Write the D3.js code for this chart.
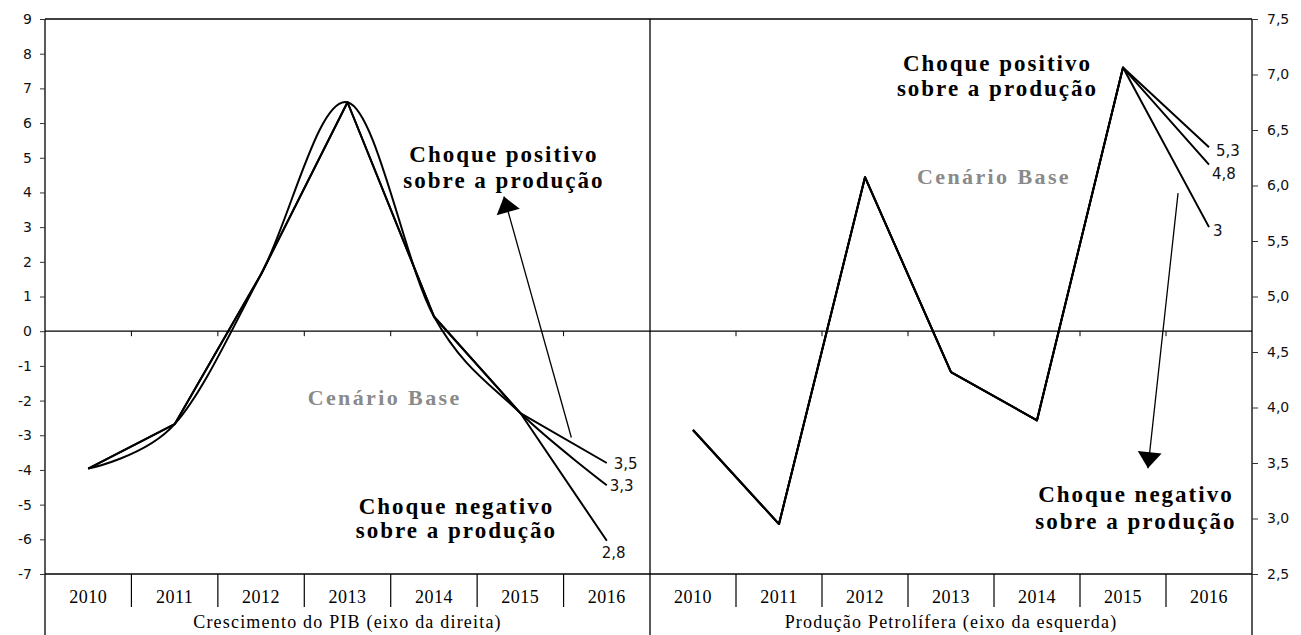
<!DOCTYPE html>
<html><head><meta charset="utf-8">
<script src="https://cdn.jsdelivr.net/npm/d3@7/dist/d3.min.js"></script>
<style>
html,body{margin:0;padding:0;background:#fff;}
svg{display:block;}
</style></head>
<body><svg id="c" width="1301" height="635"></svg>
<script>
// ---------- data ----------
const years = [2010, 2011, 2012, 2013, 2014, 2015, 2016];
const leftTicks = [-7,-6,-5,-4,-3,-2,-1,0,1,2,3,4,5,6,7,8,9];
const rightTicks = [2.5,3.0,3.5,4.0,4.5,5.0,5.5,6.0,6.5,7.0,7.5];
// Crescimento do PIB (right axis)
const pibBase = [3.45, 3.85, 5.2, 6.75, 4.82, 3.95, 3.3];
const pibPos  = [3.45, 3.85, 5.2, 6.75, 4.82, 3.95, 3.5];
const pibNeg  = [3.45, 3.85, 5.2, 6.75, 4.82, 3.95, 2.8];
const pibEndLabels = ["3,5", "3,3", "2,8"];
const pibEndValues = [3.5, 3.3, 2.8];
// Produção Petrolífera (left axis)
const oilBase = [-2.85, -5.56, 4.44, -1.18, -2.57, 7.6, 4.8];
const oilPos  = [-2.85, -5.56, 4.44, -1.18, -2.57, 7.6, 5.3];
const oilNeg  = [-2.85, -5.56, 4.44, -1.18, -2.57, 7.6, 3.0];
const oilEndLabels = ["5,3", "4,8", "3"];
const oilEndValues = [5.3, 4.8, 3.0];
const leftTitle = "Crescimento do PIB (eixo da direita)";
const rightTitle = "Produção Petrolífera (eixo da esquerda)";

// ---------- layout ----------
const X0 = 45, XM = 650, X1 = 1252, YT = 19, YB = 574;
const svg = d3.select("#c");
const yL = d3.scaleLinear().domain([-7, 9]).range([YB, YT]);
const yR = d3.scaleLinear().domain([2.5, 7.5]).range([YB, YT]);
const bandL = d3.scaleBand().domain(years).range([X0, XM]);
const bandR = d3.scaleBand().domain(years).range([XM, X1]);
const cx = (b, yr) => b(yr) + b.bandwidth() / 2;
// fractional year position (for annotations)
const fx = (b, f) => b.range()[0] + (f - years[0] + 0.5) * b.bandwidth();

const serif = "'Liberation Serif','Times New Roman',serif";
const sans = "'DejaVu Sans',Verdana,sans-serif";

// frame lines
const hl = (y) => svg.append("line").attr("x1", X0).attr("x2", X1).attr("y1", y).attr("y2", y).attr("stroke", "#000").attr("stroke-width", 1.3);
const vl = (x) => svg.append("line").attr("x1", x).attr("x2", x).attr("y1", YT).attr("y2", 635).attr("stroke", "#000").attr("stroke-width", 1.3);
hl(YT); hl(yL(0)); hl(YB);
vl(X0); vl(XM); vl(X1);

// axes
const axL = svg.append("g").attr("transform", `translate(${X0},0)`)
  .call(d3.axisLeft(yL).tickValues(leftTicks).tickSize(5).tickPadding(8).tickFormat(d => String(d)));
const axR = svg.append("g").attr("transform", `translate(${X1},0)`)
  .call(d3.axisRight(yR).tickValues(rightTicks).tickSize(6).tickPadding(9).tickFormat(d => d.toFixed(1).replace(".", ",")));
[axL, axR].forEach(a => {
  a.select(".domain").remove();
  a.selectAll("line").attr("stroke", "#333");
  a.selectAll("text").attr("font-family", sans).attr("font-size", 14).attr("fill", "#111");
});

// small ticks on zero line and table dividers
[bandL, bandR].forEach(b => {
  years.slice(1).forEach(yr => {
    const x = b(yr);
    svg.append("line").attr("x1", x).attr("x2", x).attr("y1", yL(0)).attr("y2", yL(0) + 5).attr("stroke", "#000").attr("stroke-width", 1);
    svg.append("line").attr("x1", x).attr("x2", x).attr("y1", YB).attr("y2", 607).attr("stroke", "#000").attr("stroke-width", 1.2);
  });
  years.forEach(yr => {
    svg.append("text").attr("x", cx(b, yr)).attr("y", 603).attr("text-anchor", "middle")
      .attr("font-family", serif).attr("font-size", 18).attr("letter-spacing", 0.5).text(yr);
  });
});
svg.append("text").attr("x", (X0 + XM) / 2).attr("y", 628).attr("text-anchor", "middle")
  .attr("font-family", serif).attr("font-size", 18).attr("letter-spacing", 1.2).text(leftTitle);
svg.append("text").attr("x", (XM + X1) / 2).attr("y", 628).attr("text-anchor", "middle")
  .attr("font-family", serif).attr("font-size", 18).attr("letter-spacing", 1.2).text(rightTitle);

// lines
const lineStraightL = d3.line().x((d, i) => cx(bandL, years[i])).y(d => yR(d));
const lineSmoothL = d3.line().x((d, i) => cx(bandL, years[i])).y(d => yR(d)).curve(d3.curveCardinal.tension(0));
const lineR = d3.line().x((d, i) => cx(bandR, years[i])).y(d => yL(d));
const drawPath = (gen, data) => svg.append("path").attr("d", gen(data)).attr("fill", "none")
  .attr("stroke", "#000").attr("stroke-width", 2).attr("stroke-linejoin", "round");
drawPath(lineSmoothL, pibBase);
drawPath(lineStraightL, pibPos);
drawPath(lineStraightL, pibNeg);
drawPath(lineR, oilBase);
drawPath(lineR, oilPos);
drawPath(lineR, oilNeg);

// end labels
const endLbl = (x, y, t) => svg.append("text").attr("x", x).attr("y", y).attr("font-family", sans)
  .attr("font-size", 15).attr("fill", "#111").text(t);
const xEndL = cx(bandL, 2016);
endLbl(xEndL + 7, yR(pibEndValues[0]) + 6, pibEndLabels[0]);
endLbl(xEndL + 3, yR(pibEndValues[1]) + 6, pibEndLabels[1]);
endLbl(xEndL - 5, yR(pibEndValues[2]) + 17, pibEndLabels[2]);
const xEndR = cx(bandR, 2016);
endLbl(xEndR + 7, yL(oilEndValues[0]) + 9, oilEndLabels[0]);
endLbl(xEndR + 3, yL(oilEndValues[1]) + 14, oilEndLabels[1]);
endLbl(xEndR + 4, yL(oilEndValues[2]) + 9, oilEndLabels[2]);

// annotation texts
const note = (x, y, t, col, size, ls) => svg.append("text").attr("x", x).attr("y", y).attr("text-anchor", "middle")
  .attr("font-family", serif).attr("font-weight", "bold").attr("font-size", size || 23)
  .attr("letter-spacing", ls == null ? 2 : ls).attr("fill", col || "#000").text(t);
note(fx(bandL, 2014.81), yR(6.21), "Choque positivo");
note(fx(bandL, 2014.81), yR(5.98), "sobre a produção");
note(fx(bandL, 2013.43), yR(4.02), "Cenário Base", "#8a8a8a", 22, 2.4);
note(fx(bandL, 2014.26), yR(3.04), "Choque negativo");
note(fx(bandL, 2014.26), yR(2.82), "sobre a produção");
note(fx(bandR, 2013.54), yL(7.5), "Choque positivo");
note(fx(bandR, 2013.54), yL(6.77), "sobre a produção");
note(fx(bandR, 2013.5), yL(4.24), "Cenário Base", "#8a8a8a", 22, 2.4);
note(fx(bandR, 2015.15), yL(-4.93), "Choque negativo");
note(fx(bandR, 2015.15), yL(-5.71), "sobre a produção");

// arrows
const arrow = (x1, y1, x2, y2) => {
  svg.append("line").attr("x1", x1).attr("y1", y1).attr("x2", x2).attr("y2", y2)
    .attr("stroke", "#000").attr("stroke-width", 1.3);
  const ang = Math.atan2(y2 - y1, x2 - x1);
  const L = 16, W = 12;
  const bx = x2 - L * Math.cos(ang), by = y2 - L * Math.sin(ang);
  const px = -Math.sin(ang) * W, py = Math.cos(ang) * W;
  svg.append("path").attr("d", `M${x2},${y2}L${bx + px},${by + py}L${bx - px},${by - py}Z`).attr("fill", "#000");
};
arrow(fx(bandL, 2015.59), yR(3.73), fx(bandL, 2014.81), yR(5.9));
arrow(fx(bandR, 2015.64), yL(3.98), fx(bandR, 2015.29), yL(-3.95));
</script>
</body></html>
